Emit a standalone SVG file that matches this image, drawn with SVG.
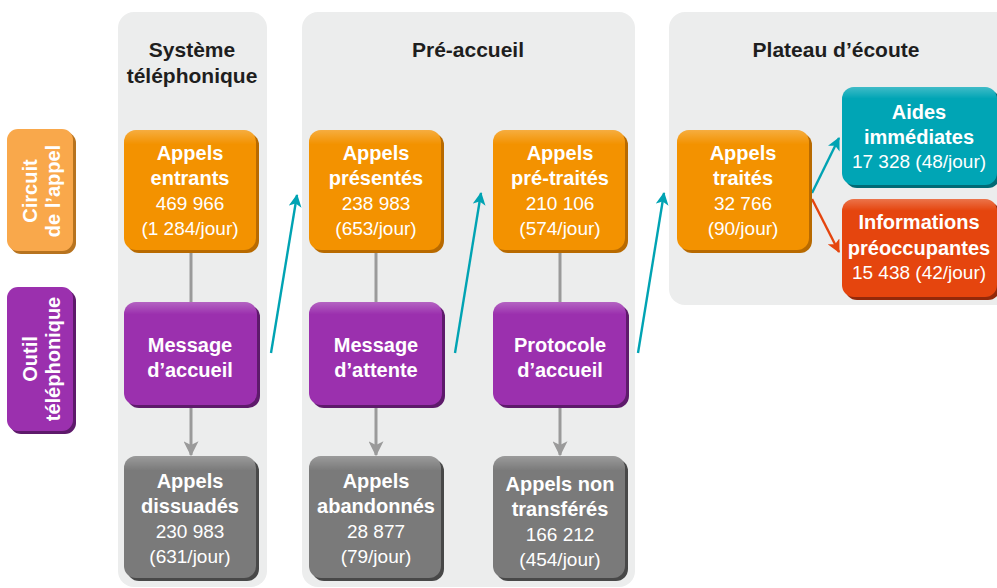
<svg xmlns="http://www.w3.org/2000/svg" width="997" height="588" viewBox="0 0 997 588">
<style>
.panel{fill:#ECEDED}
.t{font-family:"Liberation Sans",Arial,sans-serif;font-size:19px;text-anchor:middle}
.b{font-weight:bold;font-size:20px}
.w{fill:#FFFFFF}
.h{fill:#1E1E1E;font-weight:bold;font-size:21px}
.or{fill:#F39200}.ors{fill:#B86A00}
.pu{fill:#9B30AE}.pus{fill:#5E1A6B}
.gr{fill:#7A7A7A}.grs{fill:#484848}
.te{fill:#00A5B5}.tes{fill:#006A75}
.re{fill:#E5450E}.res{fill:#93290A}
.lo{fill:#F9A84B}.los{fill:#B7731F}
.gl{stroke:#9A9A9A;stroke-width:3;fill:none}
.tl{stroke:#00A3B3;stroke-width:2.4;fill:none}
.rl{stroke:#E5450E;stroke-width:2.4;fill:none}
</style>
<defs>
<marker id="ag" viewBox="0 0 12 12" refX="11" refY="6" markerWidth="15" markerHeight="15" orient="auto" markerUnits="userSpaceOnUse">
<path d="M0,0 L12,6 L0,12 L3,6 z" fill="#9A9A9A"/>
</marker>
<marker id="at" viewBox="0 0 12 12" refX="11" refY="6" markerWidth="13" markerHeight="13" orient="auto" markerUnits="userSpaceOnUse">
<path d="M0,0 L12,6 L0,12 L3,6 z" fill="#00A3B3"/>
</marker>
<marker id="ar" viewBox="0 0 12 12" refX="11" refY="6" markerWidth="13" markerHeight="13" orient="auto" markerUnits="userSpaceOnUse">
<path d="M0,0 L12,6 L0,12 L3,6 z" fill="#E5450E"/>
</marker>
<linearGradient id="hl" x1="0" y1="0" x2="0" y2="1">
<stop offset="0" stop-color="#FFFFFF" stop-opacity="0.25"/>
<stop offset="0.12" stop-color="#FFFFFF" stop-opacity="0"/>
</linearGradient>
</defs>

<g id="panels">
<rect class="panel" x="118" y="12" width="149" height="575" rx="16"/>
<rect class="panel" x="302" y="12" width="333" height="575" rx="16"/>
<rect class="panel" x="669" y="12" width="345" height="293" rx="16"/>
<text class="t h" x="192" y="57">Système</text>
<text class="t h" x="192" y="83">téléphonique</text>
<text class="t h" x="468" y="57">Pré-accueil</text>
<text class="t h" x="836" y="57">Plateau d’écoute</text>
</g>

<g id="connectors">
<line class="gl" x1="191" y1="250" x2="191" y2="303"/>
<line class="gl" x1="191" y1="406" x2="191" y2="455" marker-end="url(#ag)"/>
<line class="gl" x1="376" y1="250" x2="376" y2="303"/>
<line class="gl" x1="376" y1="406" x2="376" y2="455" marker-end="url(#ag)"/>
<line class="gl" x1="560" y1="250" x2="560" y2="303"/>
<line class="gl" x1="560" y1="406" x2="560" y2="455" marker-end="url(#ag)"/>
<line class="tl" x1="271" y1="353" x2="297" y2="195" marker-end="url(#at)"/>
<line class="tl" x1="455" y1="353" x2="481" y2="193" marker-end="url(#at)"/>
<line class="tl" x1="638" y1="353" x2="664" y2="193" marker-end="url(#at)"/>
<line class="tl" x1="812" y1="193" x2="839" y2="138" marker-end="url(#at)"/>
<line class="rl" x1="812" y1="199" x2="839" y2="252" marker-end="url(#ar)"/>
</g>

<g id="legend-circuit">
<rect class="los" x="10" y="132" width="66" height="122" rx="11"/>
<rect class="lo" x="7" y="129" width="66" height="122" rx="11"/>
<text class="t b w" transform="translate(37,191) rotate(-90)">Circuit</text>
<text class="t b w" transform="translate(60,191) rotate(-90)">de l’appel</text>
</g>
<g id="legend-outil">
<rect class="pus" x="10" y="290" width="66" height="144" rx="11"/>
<rect class="pu" x="7" y="287" width="66" height="144" rx="11"/>
<text class="t b w" transform="translate(37,359) rotate(-90)">Outil</text>
<text class="t b w" transform="translate(60,359) rotate(-90)">téléphonique</text>
</g>

<g id="appels-entrants">
<rect class="ors" x="127" y="133" width="132" height="120" rx="12"/>
<rect class="or" x="124" y="130" width="132" height="120" rx="12"/>
<rect fill="url(#hl)" x="124" y="130" width="132" height="120" rx="12"/>
<text class="t b w" x="190" y="160">Appels</text>
<text class="t b w" x="190" y="185">entrants</text>
<text class="t w" x="190" y="210">469 966</text>
<text class="t w" x="190" y="235">(1 284/jour)</text>
</g>

<g id="message-accueil">
<rect class="pus" x="127" y="305" width="133" height="103" rx="12"/>
<rect class="pu" x="124" y="302" width="133" height="103" rx="12"/>
<rect fill="url(#hl)" x="124" y="302" width="133" height="103" rx="12"/>
<text class="t b w" x="190" y="352">Message</text>
<text class="t b w" x="190" y="377">d’accueil</text>
</g>

<g id="appels-dissuades">
<rect class="grs" x="127" y="459" width="132" height="122" rx="12"/>
<rect class="gr" x="124" y="456" width="132" height="122" rx="12"/>
<rect fill="url(#hl)" x="124" y="456" width="132" height="122" rx="12"/>
<text class="t b w" x="190" y="488">Appels</text>
<text class="t b w" x="190" y="513">dissuadés</text>
<text class="t w" x="190" y="538">230 983</text>
<text class="t w" x="190" y="563">(631/jour)</text>
</g>

<g id="appels-presentes">
<rect class="ors" x="312" y="133" width="132" height="120" rx="12"/>
<rect class="or" x="309" y="130" width="132" height="120" rx="12"/>
<rect fill="url(#hl)" x="309" y="130" width="132" height="120" rx="12"/>
<text class="t b w" x="376" y="160">Appels</text>
<text class="t b w" x="376" y="185">présentés</text>
<text class="t w" x="376" y="210">238 983</text>
<text class="t w" x="376" y="235">(653/jour)</text>
</g>

<g id="message-attente">
<rect class="pus" x="312" y="305" width="133" height="103" rx="12"/>
<rect class="pu" x="309" y="302" width="133" height="103" rx="12"/>
<rect fill="url(#hl)" x="309" y="302" width="133" height="103" rx="12"/>
<text class="t b w" x="376" y="352">Message</text>
<text class="t b w" x="376" y="377">d’attente</text>
</g>

<g id="appels-abandonnes">
<rect class="grs" x="312" y="459" width="132" height="122" rx="12"/>
<rect class="gr" x="309" y="456" width="132" height="122" rx="12"/>
<rect fill="url(#hl)" x="309" y="456" width="132" height="122" rx="12"/>
<text class="t b w" x="376" y="488">Appels</text>
<text class="t b w" x="376" y="513">abandonnés</text>
<text class="t w" x="376" y="538">28 877</text>
<text class="t w" x="376" y="563">(79/jour)</text>
</g>

<g id="appels-pretraites">
<rect class="ors" x="496" y="133" width="132" height="120" rx="12"/>
<rect class="or" x="493" y="130" width="132" height="120" rx="12"/>
<rect fill="url(#hl)" x="493" y="130" width="132" height="120" rx="12"/>
<text class="t b w" x="560" y="160">Appels</text>
<text class="t b w" x="560" y="185">pré-traités</text>
<text class="t w" x="560" y="210">210 106</text>
<text class="t w" x="560" y="235">(574/jour)</text>
</g>

<g id="protocole-accueil">
<rect class="pus" x="496" y="305" width="133" height="103" rx="12"/>
<rect class="pu" x="493" y="302" width="133" height="103" rx="12"/>
<rect fill="url(#hl)" x="493" y="302" width="133" height="103" rx="12"/>
<text class="t b w" x="560" y="352">Protocole</text>
<text class="t b w" x="560" y="377">d’accueil</text>
</g>

<g id="appels-non-transferes">
<rect class="grs" x="496" y="459" width="132" height="122" rx="12"/>
<rect class="gr" x="493" y="456" width="132" height="122" rx="12"/>
<rect fill="url(#hl)" x="493" y="456" width="132" height="122" rx="12"/>
<text class="t b w" x="560" y="491">Appels non</text>
<text class="t b w" x="560" y="516">transférés</text>
<text class="t w" x="560" y="541">166 212</text>
<text class="t w" x="560" y="566">(454/jour)</text>
</g>

<g id="appels-traites">
<rect class="ors" x="680" y="133" width="132" height="120" rx="12"/>
<rect class="or" x="677" y="130" width="132" height="120" rx="12"/>
<rect fill="url(#hl)" x="677" y="130" width="132" height="120" rx="12"/>
<text class="t b w" x="743" y="160">Appels</text>
<text class="t b w" x="743" y="185">traités</text>
<text class="t w" x="743" y="210">32 766</text>
<text class="t w" x="743" y="235">(90/jour)</text>
</g>

<g id="aides-immediates">
<rect class="tes" x="845" y="90" width="155" height="98" rx="12"/>
<rect class="te" x="842" y="87" width="155" height="98" rx="12"/>
<rect fill="url(#hl)" x="842" y="87" width="155" height="98" rx="12"/>
<text class="t b w" x="919" y="119">Aides</text>
<text class="t b w" x="919" y="144">immédiates</text>
<text class="t w" x="919" y="168">17 328 (48/jour)</text>
</g>

<g id="informations-preoccupantes">
<rect class="res" x="845" y="202" width="155" height="98" rx="12"/>
<rect class="re" x="842" y="199" width="155" height="98" rx="12"/>
<rect fill="url(#hl)" x="842" y="199" width="155" height="98" rx="12"/>
<text class="t b w" x="919" y="229">Informations</text>
<text class="t b w" x="919" y="255">préoccupantes</text>
<text class="t w" x="919" y="279">15 438 (42/jour)</text>
</g>
</svg>
